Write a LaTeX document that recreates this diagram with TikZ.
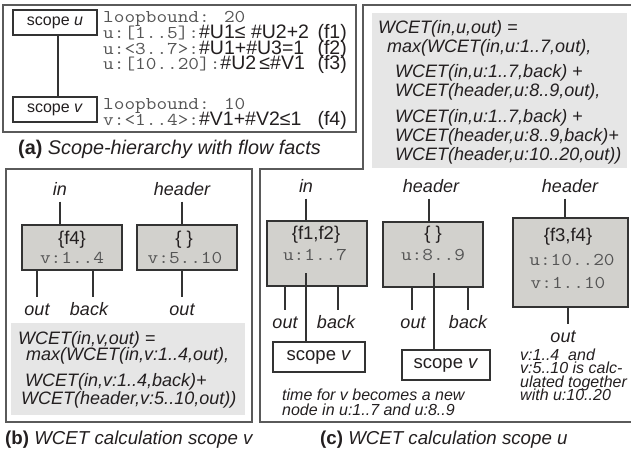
\documentclass[tikz,border=0pt]{standalone}
\usepackage{fontspec}
\setmainfont{Liberation Sans}
\usepackage{graphicx}
\definecolor{framecol}{HTML}{5A5A5A}
\definecolor{linecol}{HTML}{333333}
\definecolor{boxfill}{HTML}{D2D1CD}
\definecolor{wcetfill}{HTML}{E6E6E6}
\definecolor{monogray}{HTML}{555555}
\definecolor{txtcol}{HTML}{231F20}
\newcommand\monot[1]{{\color{monogray}\scalebox{1.15}[1]{\ttfamily\fontsize{18}{18}\selectfont #1}}}
\newcommand\fzScope{\fontsize{16}{19}\selectfont}
\newcommand\fzFact{\fontsize{19.5}{20}\selectfont}
\newcommand\fzCap{\fontsize{18.7}{22}\selectfont}
\newcommand\fzCapA{\fontsize{19.8}{22}\selectfont}
\newcommand\fzWcet{\fontsize{18}{19}\selectfont\itshape}
\newcommand\fzLbl{\fontsize{18}{20}\selectfont\itshape}
\newcommand\fzBox{\fontsize{18.5}{20}\selectfont}
\newcommand\fzBigScope{\fontsize{18.5}{20}\selectfont}
\newcommand\fzNote{\fontsize{16}{15}\selectfont\itshape}
\begin{document}
\begin{tikzpicture}[x=1pt,y=-1pt,
  frame/.style={draw=framecol, line width=1.3pt},
  conn/.style={draw=linecol, line width=1.2pt},
  sbox/.style={draw=linecol, line width=1.2pt, fill=white, inner sep=0pt, text=txtcol},
  gbox/.style={draw=linecol, line width=1.2pt, fill=boxfill, inner sep=0pt},
  fact/.style={anchor=base west, inner sep=0pt, font=\fzFact, text=txtcol},
  factr/.style={anchor=base east, inner sep=0pt, font=\fzFact, text=txtcol},
  captxt/.style={anchor=base west, inner sep=0pt, font=\fzCap, text=txtcol},
  wcet/.style={anchor=base west, inner sep=0pt, font=\fzWcet, text=txtcol},
  lbl/.style={anchor=base, font=\fzLbl, text=txtcol, text height=16pt, text depth=5pt, inner sep=1.5pt},
  boxtxt/.style={inner sep=0pt, font=\fzBox, text=txtcol},
  note/.style={anchor=base west, inner sep=0pt, font=\fzNote, text=txtcol}]
\useasboundingbox (0,0) rectangle (631,456);
% ---------- panel (a)
\draw[frame] (3,5) rectangle (356,132);
\node[sbox, minimum width=84, minimum height=25, font=\fzScope] (su) at (55,22.5) {scope \textit{u}};
\node[sbox, minimum width=84, minimum height=25, font=\fzScope] (sv) at (55,109.5) {scope \textit{v}};
\draw[conn] ([xshift=3pt]su.south) -- ([xshift=3pt]sv.north);
\node[fact] (l1) at (103,22.7) {\monot{loopbound: 20}};
\node[fact] (l2) at (103,38.3) {\monot{u:[1..5]:}\#U1≤ \#U2+2};
\node[fact] (l3) at (103,54) {\monot{u:<3..7>:}\#U1+\#U3=1};
\node[fact] (l4) at (103,69.5) {\monot{u:[10..20]:}\#U2\,≤\#V1};
\node[fact] (l5) at (103,109) {\monot{loopbound: 10}};
\node[fact] (l6) at (103,125.5) {\monot{v:<1..4>:}\#V1+\#V2≤1};
\node[factr] (f1) at (347,38.3) {(f1)};
\node[factr] (f2) at (347,54) {(f2)};
\node[factr] (f3) at (347,69.5) {(f3)};
\node[factr] (f4) at (347,125.5) {(f4)};
\node[captxt, font=\fzCapA] (capa) at (18,154) {\textbf{(a)} \textit{Scope-hierarchy with flow facts}};
% ---------- panel (c) frame and formula
\draw[frame] (632,5) -- (363,5) -- (363,169) -- (260,169) -- (260,422) -- (632,422);
\fill[wcetfill] (372,13) rectangle (627,168);
\node[wcet] (wc1) at (378,33) {WCET(in,u,out) =};
\node[wcet] (wc2) at (387,52) {max(WCET(in,u:1..7,out),};
\node[wcet] (wc3) at (395,77.5) {WCET(in,u:1..7,back) +};
\node[wcet] (wc4) at (395,96.5) {WCET(header,u:8..9,out),};
\node[wcet] (wc5) at (395,122) {WCET(in,u:1..7,back) +};
\node[wcet] (wc6) at (395,141) {WCET(header,u:8..9,back)+};
\node[wcet] (wc7) at (395,160) {WCET(header,u:10..20,out))};
% ---------- panel (b)
\draw[frame] (6,169) rectangle (252,422);
\node[lbl] (bin) at (60,195) {in};
\node[lbl] (bhd) at (182,195) {header};
\node[gbox, minimum width=100, minimum height=45] (b1) at (72,247.5) {};
\node[gbox, minimum width=100, minimum height=45] (b2) at (187,247.5) {};
\node[boxtxt] (b1t) at (72,240) {\{f4\}};
\node[inner sep=0pt] (b1m) at (72,258) {\monot{v:1..4}};
\node[boxtxt] (b2t) at (184,240) {\{ \}};
\node[inner sep=0pt] (b2m) at (185,258) {\monot{v:5..10}};
\draw[conn] (bin.south) -- (bin.south |- b1.north);
\draw[conn] (bhd.south) -- (bhd.south |- b2.north);
\node[lbl] (bo1) at (37,315) {out};
\node[lbl] (bb1) at (89,315) {back};
\node[lbl] (bo2) at (182,315) {out};
\draw[conn] (bo1.north |- b1.south) -- (bo1.north);
\draw[conn] ([xshift=4pt]bb1.north |- b1.south) -- ([xshift=4pt]bb1.north);
\draw[conn] (bo2.north |- b2.south) -- (bo2.north);
\fill[wcetfill] (11,323) rectangle (245,415);
\node[wcet] (wb1) at (18,344) {WCET(in,v,out) =};
\node[wcet] (wb2) at (26,360) {max(WCET(in,v:1..4,out),};
\node[wcet] (wb3) at (25,386) {WCET(in,v:1..4,back)+};
\node[wcet] (wb4) at (21,404) {WCET(header,v:5..10,out))};
\node[captxt] (capb) at (5,444) {\textbf{(b)} \textit{WCET calculation scope v}};
% ---------- panel (c) graph
\node[lbl] (cin) at (306,192) {in};
\node[lbl] (chd1) at (431,192) {header};
\node[lbl] (chd2) at (570,192) {header};
\node[gbox, minimum width=100, minimum height=65] (c1) at (317,253.5) {};
\node[gbox, minimum width=100, minimum height=65] (c2) at (433,254.5) {};
\node[gbox, minimum width=115, minimum height=89] (c3) at (570.5,262.5) {};
\node[boxtxt] (c1t) at (316,235) {\{f1,f2\}};
\node[inner sep=0pt] (c1m) at (315,255) {\monot{u:1..7}};
\node[boxtxt] (c2t) at (433,235) {\{ \}};
\node[inner sep=0pt] (c2m) at (433,255) {\monot{u:8..9}};
\node[boxtxt] (c3t) at (568,237) {\{f3,f4\}};
\node[inner sep=0pt] (c3m) at (572,260) {\monot{u:10..20}};
\node[inner sep=0pt] (c3n) at (568,283) {\monot{v:1..10}};
\draw[conn] (cin.south) -- (cin.south |- c1.north);
\draw[conn] ([xshift=-2pt]chd1.south) -- ([xshift=-2pt]chd1.south |- c2.north);
\draw[conn] ([xshift=-5pt]chd2.south) -- ([xshift=-5pt]chd2.south |- c3.north);
\node[sbox, minimum width=92, minimum height=30, font=\fzBigScope] (sv1) at (319,357) {scope \textit{v}};
\node[sbox, minimum width=88, minimum height=30, font=\fzBigScope] (sv2) at (446,365) {scope \textit{v}};
\coordinate (c1in) at (306,273);
\coordinate (c2in) at (434,273);
\draw[conn] (c1in) -- (c1in |- sv1.north);
\draw[conn] (c2in) -- (c2in |- sv2.north);
\node[lbl] (co1) at (285,328) {out};
\node[lbl] (cb1) at (336,328) {back};
\node[lbl] (co2) at (413,328) {out};
\node[lbl] (cb2) at (468,328) {back};
\node[lbl] (co3) at (563,342) {out};
\draw[conn] (co1.north |- c1.south) -- (co1.north);
\draw[conn] ([xshift=2pt]cb1.north |- c1.south) -- ([xshift=2pt]cb1.north);
\draw[conn] ([xshift=-1pt]co2.north |- c2.south) -- ([xshift=-1pt]co2.north);
\draw[conn] (cb2.north |- c2.south) -- (cb2.north);
\draw[conn] ([xshift=5pt]co3.north |- c3.south) -- ([xshift=5pt]co3.north);
\node[note] (n1a) at (282,400) {time for v becomes a new};
\node[note] (n1b) at (282,415) {node in u:1..7 and u:8..9};
\node[note] (n2a) at (520,360) {v:1..4~ and};
\node[note] (n2b) at (520,373.5) {v:5..10 is calc-};
\node[note] (n2c) at (520,387) {ulated together};
\node[note] (n2d) at (520,400.5) {with u:10..20};
\node[captxt] (capc) at (320,444) {\textbf{(c)} \textit{WCET calculation scope u}};
\end{tikzpicture}
\end{document}
